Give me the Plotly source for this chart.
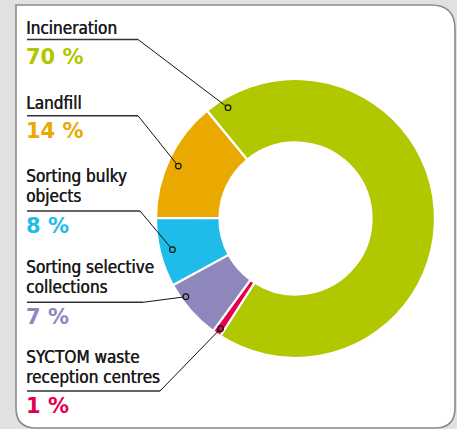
import math
import plotly.graph_objects as go

# ---------------- data ----------------
categories = ["Incineration", "Landfill", "Sorting bulky objects",
              "Sorting selective collections", "SYCTOM waste reception centres"]
values = [70, 14, 8, 7, 1]
pct_labels = ["70 %", "14 %", "8 %", "7 %", "1 %"]
label_lines = [["Incineration"], ["Landfill"], ["Sorting bulky", "objects"],
               ["Sorting selective", "collections"], ["SYCTOM waste", "reception centres"]]
colors = ["#b1c700", "#e9a900", "#1fbbe9", "#8e87bb", "#e3004f"]

# ---------------- layout constants (pixels) ----------------
W, H = 457, 429
CX, CY, R = 295.5, 218.5, 139.5
HOLE = 0.545
ROTATION = -39.4
dot_frac = [0.032, 0.474, 0.5, 0.726, 0.45]
dot_rad = [0.93, 0.92, 0.91, 0.965, 0.955]
line_y = [39.5, 115.7, 211, 302.3, 391]
elbow_x = [138, 138, 140, 143, 160]
first_baseline = [34, 109, 182, 273, 363]
pct_mid = [56.5, 131, 226, 317, 405.5]
LEFT = 27
LINE_GAP = 19.5

fig = go.Figure()

fig.add_trace(go.Pie(
    labels=categories, values=values, sort=False, direction="counterclockwise",
    rotation=ROTATION, hole=HOLE, textinfo="none", hoverinfo="label+percent",
    marker=dict(colors=colors, line=dict(color="white", width=2.2)),
    showlegend=False,
    domain=dict(x=[(CX - R) / W, (CX + R) / W], y=[(H - CY - R) / H, (H - CY + R) / H]),
))

# slice spans (clockwise degrees from 12 o'clock)
total = sum(values)
spans = [(ROTATION, ROTATION + 360 * values[0] / total)]
cum = 0.0
for v in values[1:]:
    a1 = ROTATION - 360 * cum / total
    cum += v
    a0 = ROTATION - 360 * cum / total
    spans.append((a0, a1))

shapes = []
# panel
r1, r2 = 24, 20
px0, py0, px1, py1 = 16, 5, 455, 428
panel = (f"M {px0},{py0} L {px1 - r1},{py0} Q {px1},{py0} {px1},{py0 + r1} "
         f"L {px1},{py1 - r2} Q {px1},{py1} {px1 - r2},{py1} "
         f"L {px0 + r2},{py1} Q {px0},{py1} {px0},{py1 - r2} Z")
shapes.append(dict(type="path", path=panel, xref="x", yref="y", layer="below",
                   fillcolor="white", line=dict(color="#8a8a8a", width=1.6)))

annotations = []
DOT_R = 2.8
for i in range(len(values)):
    a0, a1 = spans[i]
    th = math.radians(a0 + dot_frac[i] * (a1 - a0))
    rr = R * dot_rad[i]
    dx, dy = CX + rr * math.sin(th), CY - rr * math.cos(th)
    ex, ey = elbow_x[i], line_y[i]
    # underline
    shapes.append(dict(type="line", xref="x", yref="y", x0=LEFT, x1=ex, y0=ey, y1=ey,
                       line=dict(color="#333333", width=1.5)))
    # leader to dot edge
    L = math.hypot(dx - ex, dy - ey)
    tx, ty = dx - (dx - ex) / L * DOT_R, dy - (dy - ey) / L * DOT_R
    shapes.append(dict(type="line", xref="x", yref="y", x0=ex, x1=tx, y0=ey, y1=ty,
                       line=dict(color="#111111", width=1)))
    shapes.append(dict(type="circle", xref="x", yref="y", x0=dx - DOT_R, x1=dx + DOT_R,
                       y0=dy - DOT_R, y1=dy + DOT_R, line=dict(color="#111111", width=1.2)))
    for k, t in enumerate(label_lines[i]):
        b = first_baseline[i] + k * LINE_GAP
        annotations.append(dict(text=t, x=LEFT - 3, y=b - 5.9, xref="x", yref="y",
                                xanchor="left", yanchor="middle", showarrow=False,
                                font=dict(family="DejaVu Sans Condensed, DejaVu Sans", size=17,
                                          color="#1a1a1a", shadow="0.45px 0 0 #1a1a1a")))
    annotations.append(dict(text=f"<b>{pct_labels[i]}</b>", x=LEFT - 3, y=pct_mid[i],
                            xref="x", yref="y", xanchor="left", yanchor="middle",
                            showarrow=False,
                            font=dict(family="DejaVu Sans", size=21, color=colors[i])))

fig.update_layout(
    width=W, height=H, margin=dict(l=0, r=0, t=0, b=0),
    paper_bgcolor="#e0e2e1", plot_bgcolor="rgba(0,0,0,0)",
    xaxis=dict(range=[0, W], visible=False, fixedrange=True),
    yaxis=dict(range=[H, 0], visible=False, fixedrange=True),
    shapes=shapes, annotations=annotations, showlegend=False,
)

fig.write_html("out.html", config={"displayModeBar": False},
               post_script="document.body.style.margin='0';")
